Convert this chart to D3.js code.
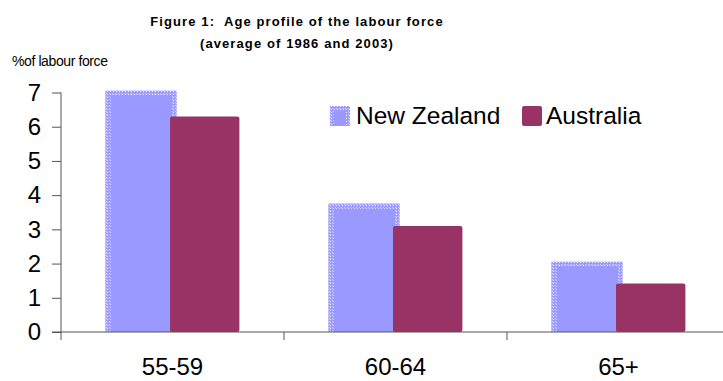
<!DOCTYPE html>
<meta charset="utf-8">
<style>
body { margin: 0; background: #fff; }
svg { font-family: 'Liberation Sans', Arial, sans-serif; }
.title { font-weight: 700; font-size: 13px; letter-spacing: 1.1px; white-space: pre; }
</style>
<body>
<svg width="723" height="381"></svg>
<script src="https://d3js.org/d3.v7.min.js"></script>
<script>
var categories = ["55-59", "60-64", "65+"];
var series = ["New Zealand", "Australia"];
var nzValues = [7.05, 3.75, 2.05];
var auValues = [6.3, 3.1, 1.42];
var yTicks = [0, 1, 2, 3, 4, 5, 6, 7];

var data = categories.map(function(c, i) {
  return {cat: c, values: [nzValues[i], auValues[i]]};
});

var svg = d3.select("svg");

var plotLeft = 61, plotRight = 730, plotTop = 92.5, plotBottom = 332;

var x0 = d3.scaleBand().domain(categories).range([plotLeft, plotRight]).padding(0);
var bw = x0.bandwidth();
var x1 = d3.scaleBand().domain(series).range([bw * 0.2, bw * 0.8]).padding(0);
var y = d3.scaleLinear().domain([0, 7]).range([plotBottom, plotTop]);

// pattern for the dotted NZ border
var defs = svg.append("defs");
var pat = defs.append("pattern")
    .attr("id", "dots")
    .attr("width", 3).attr("height", 3)
    .attr("patternUnits", "userSpaceOnUse");
pat.append("rect").attr("width", 3).attr("height", 3).attr("fill", "#9999ff");
pat.append("rect").attr("x", 1).attr("y", 1).attr("width", 1).attr("height", 1).attr("fill", "#ffffff");
pat.append("rect").attr("x", 0).attr("y", 0).attr("width", 1).attr("height", 1).attr("fill", "#d6d6ff");

// titles
svg.append("text").attr("class", "title")
    .attr("x", 297).attr("y", 26).attr("text-anchor", "middle")
    .text("Figure 1:  Age profile of the labour force");
svg.append("text").attr("class", "title")
    .attr("x", 297).attr("y", 48).attr("text-anchor", "middle")
    .text("(average of 1986 and 2003)");
svg.append("text")
    .attr("x", 12).attr("y", 66)
    .attr("font-size", "14px")
    .attr("letter-spacing", "-0.4px")
    .text("%of labour force");

// bars
var groups = svg.selectAll(".grp")
    .data(data)
  .enter().append("g")
    .attr("class", "grp")
    .attr("transform", function(d) { return "translate(" + x0(d.cat) + ",0)"; });

// NZ bars
groups.append("rect")
    .attr("x", x1(series[0]))
    .attr("y", function(d) { return y(d.values[0]); })
    .attr("width", x1.bandwidth() + 4)
    .attr("height", function(d) { return y(0) - y(d.values[0]); })
    .attr("fill", "#9999ff");
groups.append("path")
    .attr("d", function(d) {
      var xa = x1(series[0]) + 2.5, xb = x1(series[0]) + x1.bandwidth() + 4 - 2.5;
      var yt = y(d.values[0]) + 2.5, yb = y(0);
      return "M" + xa + "," + yb + "V" + yt + "H" + xb + "V" + yb;
    })
    .attr("fill", "none")
    .attr("stroke", "url(#dots)")
    .attr("stroke-width", 5);

// AU bars
groups.append("rect")
    .attr("x", x1(series[1]) - 2.5)
    .attr("y", function(d) { return y(d.values[1]); })
    .attr("width", x1.bandwidth() + 2.5)
    .attr("height", function(d) { return y(0) - y(d.values[1]); })
    .attr("rx", 2)
    .attr("fill", "#993366");

// y axis
var yAxis = svg.append("g")
    .attr("transform", "translate(" + plotLeft + ",0)")
    .call(d3.axisLeft(y).tickValues(yTicks).tickSize(9).tickPadding(11).tickFormat(d3.format("d")));
yAxis.select(".domain").remove();
yAxis.selectAll("line").attr("stroke", "#555");
yAxis.selectAll("text").attr("font-size", "24px").attr("fill", "#000")
    .attr("font-family", "'Liberation Sans', Arial, sans-serif");
svg.append("line")
    .attr("x1", plotLeft).attr("x2", plotLeft)
    .attr("y1", plotTop).attr("y2", plotBottom + 8)
    .attr("stroke", "#555");

// x axis
svg.append("line")
    .attr("x1", plotLeft - 9).attr("x2", 723)
    .attr("y1", plotBottom).attr("y2", plotBottom)
    .attr("stroke", "#555");
svg.selectAll(".xtick")
    .data(categories.slice(1))
  .enter().append("line")
    .attr("x1", function(d) { return x0(d); })
    .attr("x2", function(d) { return x0(d); })
    .attr("y1", plotBottom).attr("y2", plotBottom + 8)
    .attr("stroke", "#555");
var xAxis = svg.append("g")
    .attr("transform", "translate(0," + plotBottom + ")")
    .call(d3.axisBottom(x0).tickSize(0).tickPadding(26));
xAxis.select(".domain").remove();
xAxis.selectAll("text").attr("font-size", "24px").attr("fill", "#000")
    .attr("font-family", "'Liberation Sans', Arial, sans-serif");

// legend
var legend = svg.append("g");
legend.append("rect").attr("x", 330).attr("y", 106).attr("width", 20).attr("height", 20).attr("fill", "url(#dots)");
legend.append("rect").attr("x", 334).attr("y", 110).attr("width", 12).attr("height", 16).attr("fill", "#9999ff");
legend.append("text").attr("x", 356).attr("y", 124).attr("font-size", "24.5px").text(series[0]);
legend.append("rect").attr("x", 522).attr("y", 106).attr("width", 20).attr("height", 20).attr("rx", 2).attr("fill", "#993366");
legend.append("text").attr("x", 546).attr("y", 124).attr("font-size", "24.5px").text(series[1]);
</script>
</body>
